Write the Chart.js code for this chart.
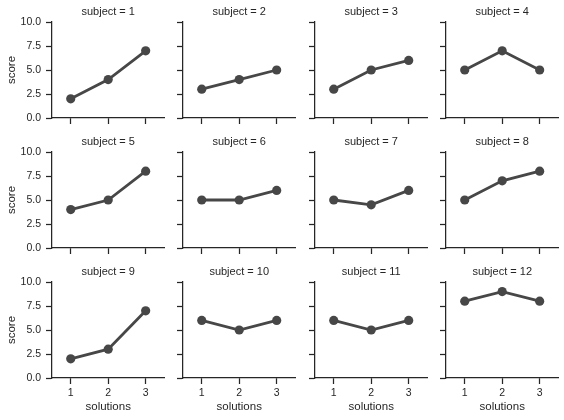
<!DOCTYPE html>
<html>
<head>
<meta charset="utf-8">
<script src="https://cdn.jsdelivr.net/npm/chart.js@4"></script>
<style>
  html, body { margin: 0; padding: 0; background: #fff; }
  #wrap { position: relative; width: 564px; height: 420px; overflow: hidden; }
  #wrap canvas { position: absolute; }
</style>
</head>
<body>
<div id="wrap"></div>
<script>
// ================= DATA =================
const subjects = [1, 2, 3, 4, 5, 6, 7, 8, 9, 10, 11, 12];
const solutions = [1, 2, 3];
const yTicks = [0, 2.5, 5, 7.5, 10];
const scores = [
    [2, 4, 7], [3, 4, 5], [3, 5, 6], [5, 7, 5],
    [4, 5, 8], [5, 5, 6], [5, 4.5, 6], [5, 7, 8],
    [2, 3, 7], [6, 5, 6], [6, 5, 6], [8, 9, 8]
];

// ================= LAYOUT =================
const colLeft = [52, 183.3, 314.6, 446];
const rowTop = [21.6, 151.9, 282.2];
const plotW = 113, plotH = 96;
const yAxisW = 52, xAxisH = 44, titleH = 22;
const ink = "#262626", lineCol = "#474747";
const FONT = "'Liberation Sans', Arial, sans-serif";

// panel title drawn over the centre of the plot area
const facetTitle = {
    id: "facetTitle",
    afterDraw(chart, args, opts) {
        const {ctx, chartArea} = chart;
        ctx.save();
        ctx.fillStyle = ink;
        ctx.font = `11px ${FONT}`;
        ctx.textAlign = "center";
        ctx.textBaseline = "middle";
        ctx.fillText(opts.text, (chartArea.left + chartArea.right) / 2, chartArea.top - 10);
        ctx.restore();
    }
};

function makePanel(k) {
    const r = Math.floor(k / 4), c = k % 4;
    const firstCol = c === 0, lastRow = r === 2;

    const cv = document.createElement("canvas");
    const w = yAxisW + plotW + 4, h = titleH + plotH + xAxisH;
    cv.width = w; cv.height = h;
    cv.style.width = w + "px"; cv.style.height = h + "px";
    cv.style.left = (colLeft[c] - yAxisW) + "px";
    cv.style.top = (rowTop[r] - titleH) + "px";
    document.getElementById("wrap").appendChild(cv);

    const axisGrid = {
        display: true, drawOnChartArea: false, drawTicks: true,
        tickLength: 6, tickColor: ink, tickWidth: 1.25
    };

    new Chart(cv, {
        type: "line",
        data: {
            datasets: [{
                data: solutions.map((s, i) => ({x: s, y: scores[k][i]})),
                borderColor: lineCol,
                backgroundColor: lineCol,
                borderWidth: 2.8,
                pointRadius: 4.6,
                pointBorderWidth: 0,
                pointBackgroundColor: lineCol,
                tension: 0
            }]
        },
        options: {
            responsive: false,
            animation: false,
            events: [],
            layout: { padding: { top: titleH, right: 4, left: 0, bottom: 0 } },
            plugins: {
                legend: { display: false },
                tooltip: { enabled: false },
                facetTitle: { text: "subject = " + subjects[k] }
            },
            scales: {
                x: {
                    type: "linear", min: 0.5, max: 3.5,
                    afterBuildTicks: s => { s.ticks = solutions.map(v => ({value: v})); },
                    afterFit: s => { s.height = xAxisH; },
                    grid: axisGrid,
                    border: { display: true, color: ink, width: 1.25 },
                    ticks: {
                        color: ink, padding: 2.5, maxRotation: 0,
                        font: { family: FONT, size: 10.5 },
                        callback: v => lastRow ? String(v) : ""
                    },
                    title: {
                        display: lastRow, text: "solutions", color: ink,
                        font: { family: FONT, size: 11.5 },
                        padding: { top: 0, bottom: 8 }
                    }
                },
                y: {
                    type: "linear", min: 0, max: 10,
                    afterBuildTicks: s => { s.ticks = yTicks.map(v => ({value: v})); },
                    afterFit: s => { s.width = yAxisW; },
                    grid: axisGrid,
                    border: { display: true, color: ink, width: 1.25 },
                    ticks: {
                        color: ink, padding: 5,
                        font: { family: FONT, size: 10.5 },
                        callback: v => firstCol ? v.toFixed(1) : ""
                    },
                    title: {
                        display: firstCol, text: "score", color: ink,
                        font: { family: FONT, size: 11.5 },
                        padding: { top: 5, bottom: 0 }
                    }
                }
            }
        },
        plugins: [facetTitle]
    });
}

subjects.forEach((s, k) => makePanel(k));
</script>
</body>
</html>
